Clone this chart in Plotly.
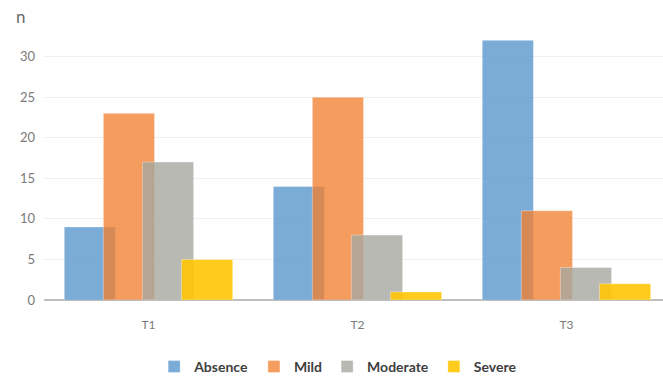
import plotly.graph_objects as go

times = ["T1", "T2", "T3"]
series_names = ["Absence", "Mild", "Moderate", "Severe"]
absence = [9, 14, 32]
mild = [23, 25, 11]
moderate = [17, 8, 4]
severe = [5, 1, 2]
y_ticks = [0, 5, 10, 15, 20, 25, 30]

colors = ["rgba(90,150,205,0.8)", "rgba(242,128,50,0.78)",
          "rgba(168,168,160,0.8)", "rgba(255,199,5,0.9)"]
values = [absence, mild, moderate, severe]

bar_w = 0.245
step = 0.187
start = -(3 * step + bar_w) / 2

fig = go.Figure()
for i, (name, vals, col) in enumerate(zip(series_names, values, colors)):
    fig.add_trace(go.Bar(
        x=times, y=vals, name=name,
        width=bar_w, offset=start + i * step,
        marker=dict(color=col,
                    line=dict(color="rgba(255,255,255,0.35)", width=1)),
    ))

fig.update_layout(
    width=663, height=376,
    margin=dict(l=44, r=0, t=16, b=76),
    plot_bgcolor="white", paper_bgcolor="white",
    barmode="group",
    font=dict(family="Lato, Open Sans, sans-serif", color="#7a7a7a", size=13),
    showlegend=True,
    legend=dict(orientation="h", xref="container", yref="container",
                x=0.51, xanchor="center", y=0.024, yanchor="middle",
                font=dict(size=14, color="#404040", weight="bold"),
                itemwidth=30, traceorder="normal"),
    annotations=[dict(text="n", xref="paper", yref="y", x=0, y=35,
                      xanchor="right", yanchor="middle", xshift=-16,
                      showarrow=False, font=dict(size=17, color="#6a6a6a"))],
)
fig.update_xaxes(range=[-0.5, 2.462], showgrid=False, showline=False, ticks="",
                 tickfont=dict(size=12, color="#7a7a7a"), ticklabelstandoff=16)
fig.update_yaxes(range=[0, 35], tickvals=y_ticks + [35],
                 ticktext=[str(v) for v in y_ticks] + [""],
                 tickfont=dict(size=13, color="#7a7a7a"),
                 showgrid=True, gridcolor="rgba(225,225,225,0.55)", gridwidth=1,
                 zeroline=True, zerolinecolor="#BFBFBF", zerolinewidth=2,
                 layer="above traces", ticks="", ticklabelstandoff=8)

fig.write_html("out.html")
